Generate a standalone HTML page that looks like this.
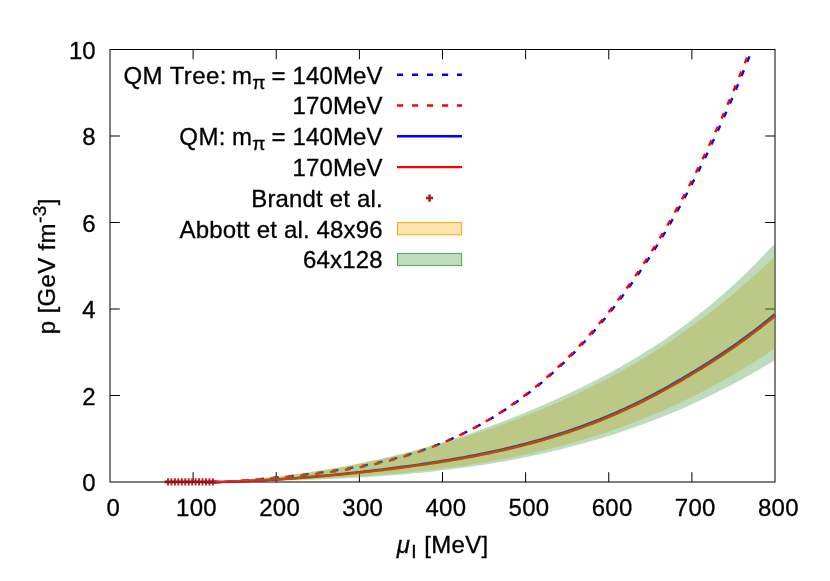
<!DOCTYPE html>
<html><head><meta charset="utf-8"><title>plot</title>
<style>
html,body{margin:0;padding:0;background:#fff;}
svg{display:block;will-change:transform;}
text{font-family:"Liberation Sans",sans-serif;font-size:24px;fill:#000;stroke:#000;stroke-width:0.3px;}
</style></head><body>
<svg width="830" height="581" viewBox="0 0 830 581">
<rect width="830" height="581" fill="#fff"/>
<path d="M193.12,482.00V472.20M193.12,49.50V59.30M276.25,482.00V472.20M276.25,49.50V59.30M359.38,482.00V472.20M359.38,49.50V59.30M442.50,482.00V472.20M442.50,49.50V59.30M525.62,482.00V472.20M525.62,49.50V59.30M608.75,482.00V472.20M608.75,49.50V59.30M691.88,482.00V472.20M691.88,49.50V59.30M110.00,395.50H119.80M775.00,395.50H765.20M110.00,309.00H119.80M775.00,309.00H765.20M110.00,222.50H119.80M775.00,222.50H765.20M110.00,136.00H119.80M775.00,136.00H765.20" stroke="#000" stroke-width="1" fill="none"/>
<rect x="110.0" y="49.5" width="665.0" height="432.5" fill="none" stroke="#000" stroke-width="1"/>
<g fill="none" stroke-width="2.4">
<path d="M206.25,482.05 L206.61,482.05 L206.98,482.05 L207.34,482.05 L207.70,482.05 L208.06,482.05 L208.43,482.05 L208.79,482.05 L209.15,482.05 L209.52,482.05 L209.88,482.05 L210.24,482.05 L210.60,482.05 L210.97,482.05 L211.33,482.05 L211.69,482.05 L212.06,482.05 L212.42,482.05 L212.78,482.05 L213.15,482.05 L213.51,482.05 L213.87,482.05 L214.23,482.05 L214.60,482.05 L214.96,482.05 L215.32,482.05 L215.69,482.05 L216.05,482.05 L216.41,482.05 L216.77,482.05 L217.14,482.05 L217.50,482.05 L217.86,482.05 L218.23,482.05 L218.59,482.05 L218.95,482.05 L219.31,482.05 L219.68,482.05 L220.04,482.05 L220.40,482.05 L220.77,482.05 L221.13,482.05 L221.49,482.05 L221.86,482.05 L222.22,482.05 L222.58,482.05 L222.94,482.05 L223.31,482.05 L223.67,482.05 L224.03,482.05 L224.40,482.05 L224.76,482.05 L225.12,482.05 L225.48,482.05 L225.85,482.05 L226.21,482.05 L226.57,482.05 L226.94,482.05 L227.30,482.05 L227.66,482.02 L228.02,481.99 L228.39,481.96 L228.75,481.93 L229.11,481.90 L229.48,481.86 L229.84,481.83 L230.20,481.80 L230.56,481.77 L230.93,481.74 L231.29,481.71 L231.65,481.67 L232.02,481.64 L232.38,481.61 L232.74,481.58 L233.11,481.55 L233.47,481.52 L233.83,481.49 L234.19,481.45 L234.56,481.42 L234.92,481.39 L235.28,481.36 L235.65,481.33 L236.01,481.30 L236.37,481.27 L236.73,481.24 L237.10,481.21 L237.46,481.18 L237.82,481.15 L238.19,481.11 L238.55,481.08 L238.91,481.05 L239.27,481.02 L239.64,480.99 L240.00,480.96 L240.36,480.93 L240.73,480.90 L241.09,480.87 L241.45,480.84 L241.82,480.80 L242.18,480.77 L242.54,480.74 L242.90,480.70 L243.27,480.67 L243.63,480.63 L243.99,480.60 L244.36,480.57 L244.72,480.53 L245.08,480.50 L245.44,480.46 L245.81,480.43 L246.17,480.40 L246.53,480.36 L246.90,480.33 L247.26,480.30 L247.62,480.26 L247.98,480.23 L248.35,480.19 L248.71,480.16 L249.07,480.13 L249.44,480.09 L249.80,480.06 L250.16,480.03 L250.52,479.99 L250.89,479.96 L251.25,479.93 L251.61,479.89 L251.98,479.86 L252.34,479.82 L252.70,479.79 L253.07,479.76 L253.43,479.72 L253.79,479.69 L254.15,479.66 L254.52,479.62 L254.88,479.59 L255.24,479.56 L255.61,479.52 L255.97,479.49 L256.33,479.46 L256.69,479.42 L257.06,479.39 L257.42,479.35 L257.78,479.32 L258.15,479.29 L258.51,479.25 L258.87,479.22 L259.23,479.19 L259.60,479.15 L259.96,479.12 L260.32,479.08 L260.69,479.05 L261.05,479.02 L261.41,478.98 L261.78,478.95 L262.14,478.91 L262.50,478.88 L262.86,478.85 L263.23,478.81 L263.59,478.78 L263.95,478.75 L264.32,478.71 L264.68,478.68 L265.04,478.64 L265.40,478.61 L265.77,478.57 L266.13,478.54 L266.49,478.51 L266.86,478.47 L267.22,478.44 L267.58,478.40 L267.94,478.37 L268.31,478.33 L268.67,478.30 L269.03,478.27 L269.40,478.23 L269.76,478.20 L270.12,478.16 L270.48,478.13 L270.85,478.09 L271.21,478.06 L271.57,478.02 L271.94,477.99 L272.30,477.95 L272.66,477.92 L273.03,477.88 L273.39,477.85 L273.75,477.81 L274.11,477.78 L274.48,477.74 L274.84,477.71 L275.20,477.67 L275.57,477.64 L275.93,477.60 L276.29,477.57 L276.65,477.53 L277.02,477.50 L277.38,477.46 L277.74,477.43 L278.11,477.39 L278.47,477.35 L278.83,477.32 L279.19,477.28 L279.56,477.25 L279.92,477.21 L280.28,477.17 L280.65,477.14 L281.01,477.10 L281.37,477.07 L281.73,477.03 L282.10,476.99 L282.46,476.96 L282.82,476.92 L283.19,476.88 L283.55,476.85 L283.91,476.81 L284.28,476.77 L284.64,476.74 L285.00,476.70 L285.36,476.66 L285.73,476.62 L286.09,476.59 L286.45,476.55 L286.82,476.51 L287.18,476.48 L287.54,476.44 L287.90,476.40 L288.27,476.36 L288.63,476.32 L288.99,476.29 L289.36,476.25 L289.72,476.21 L290.08,476.17 L290.44,476.13 L290.81,476.10 L291.17,476.06 L291.53,476.02 L291.90,475.98 L292.26,475.94 L292.62,475.90 L292.99,475.86 L293.35,475.83 L293.71,475.79 L294.07,475.75 L294.44,475.71 L294.80,475.67 L295.16,475.63 L295.53,475.59 L295.89,475.55 L296.25,475.51 L296.61,475.47 L296.98,475.43 L297.34,475.39 L297.70,475.35 L298.07,475.31 L298.43,475.27 L298.79,475.23 L299.15,475.19 L299.52,475.15 L299.88,475.11 L300.24,475.07 L300.61,475.03 L300.97,474.98 L301.33,474.94 L301.69,474.90 L302.06,474.86 L302.42,474.82 L302.78,474.78 L303.15,474.73 L303.51,474.69 L303.87,474.65 L304.24,474.61 L304.60,474.57 L304.96,474.52 L305.32,474.48 L305.69,474.44 L306.05,474.40 L306.41,474.35 L306.78,474.31 L307.14,474.27 L307.50,474.22 L307.86,474.18 L308.23,474.14 L308.59,474.09 L308.95,474.05 L309.32,474.00 L309.68,473.96 L310.04,473.92 L310.40,473.87 L310.77,473.83 L311.13,473.78 L311.49,473.74 L311.86,473.69 L312.22,473.65 L312.58,473.60 L312.95,473.56 L313.31,473.51 L313.67,473.47 L314.03,473.42 L314.40,473.37 L314.76,473.33 L315.12,473.28 L315.49,473.23 L315.85,473.19 L316.21,473.14 L316.57,473.09 L316.94,473.05 L317.30,473.00 L317.66,472.95 L318.03,472.91 L318.39,472.86 L318.75,472.81 L319.11,472.76 L319.48,472.71 L319.84,472.67 L320.20,472.62 L320.57,472.57 L320.93,472.52 L321.29,472.47 L321.65,472.42 L322.02,472.37 L322.38,472.32 L322.74,472.27 L323.11,472.22 L323.47,472.17 L323.83,472.12 L324.20,472.07 L324.56,472.02 L324.92,471.97 L325.28,471.92 L325.65,471.87 L326.01,471.82 L326.37,471.77 L326.74,471.72 L327.10,471.67 L327.46,471.61 L327.82,471.56 L328.19,471.51 L328.55,471.46 L328.91,471.41 L329.28,471.35 L329.64,471.30 L330.00,471.25 L330.36,471.19 L330.73,471.14 L331.09,471.09 L331.45,471.03 L331.82,470.98 L332.18,470.93 L332.54,470.87 L332.91,470.82 L333.27,470.76 L333.63,470.71 L333.99,470.65 L334.36,470.60 L334.72,470.54 L335.08,470.48 L335.45,470.43 L335.81,470.37 L336.17,470.32 L336.53,470.26 L336.90,470.20 L337.26,470.15 L337.62,470.09 L337.99,470.03 L338.35,469.97 L338.71,469.92 L339.07,469.86 L339.44,469.80 L339.80,469.74 L340.16,469.68 L340.53,469.63 L340.89,469.57 L341.25,469.51 L341.61,469.45 L341.98,469.40 L342.34,469.34 L342.70,469.28 L343.07,469.23 L343.43,469.17 L343.79,469.11 L344.16,469.06 L344.52,469.00 L344.88,468.94 L345.24,468.88 L345.61,468.83 L345.97,468.77 L346.33,468.71 L346.70,468.65 L347.06,468.59 L347.42,468.53 L347.78,468.47 L348.15,468.41 L348.51,468.35 L348.87,468.29 L349.24,468.23 L349.60,468.17 L349.96,468.11 L350.32,468.05 L350.69,467.99 L351.05,467.93 L351.41,467.87 L351.78,467.80 L352.14,467.74 L352.50,467.68 L352.87,467.62 L353.23,467.55 L353.59,467.49 L353.95,467.43 L354.32,467.36 L354.68,467.30 L355.04,467.23 L355.41,467.17 L355.77,467.11 L356.13,467.04 L356.49,466.98 L356.86,466.91 L357.22,466.85 L357.58,466.78 L357.95,466.71 L358.31,466.65 L358.67,466.58 L359.03,466.51 L359.40,466.45 L359.76,466.38 L360.12,466.31 L360.49,466.24 L360.85,466.18 L361.21,466.11 L361.57,466.04 L361.94,465.97 L362.30,465.90 L362.66,465.83 L363.03,465.76 L363.39,465.69 L363.75,465.62 L364.12,465.55 L364.48,465.48 L364.84,465.41 L365.20,465.34 L365.57,465.27 L365.93,465.20 L366.29,465.12 L366.66,465.05 L367.02,464.98 L367.38,464.91 L367.74,464.83 L368.11,464.76 L368.47,464.69 L368.83,464.61 L369.20,464.54 L369.56,464.46 L369.92,464.39 L370.28,464.31 L370.65,464.24 L371.01,464.16 L371.37,464.09 L371.74,464.01 L372.10,463.93 L372.46,463.86 L372.83,463.78 L373.19,463.70 L373.55,463.62 L373.91,463.55 L374.28,463.47 L374.64,463.39 L375.00,463.31 L375.37,463.23 L375.73,463.15 L376.09,463.07 L376.45,462.99 L376.82,462.91 L377.18,462.83 L377.54,462.75 L377.91,462.67 L378.27,462.59 L378.63,462.51 L378.99,462.43 L379.36,462.34 L379.72,462.26 L380.08,462.18 L380.45,462.10 L380.81,462.01 L381.17,461.93 L381.53,461.84 L381.90,461.76 L382.26,461.67 L382.62,461.59 L382.99,461.50 L383.35,461.42 L383.71,461.33 L384.08,461.25 L384.44,461.16 L384.80,461.07 L385.16,460.99 L385.53,460.90 L385.89,460.81 L386.25,460.72 L386.62,460.63 L386.98,460.55 L387.34,460.46 L387.70,460.37 L388.07,460.28 L388.43,460.19 L388.79,460.10 L389.16,460.01 L389.52,459.91 L389.88,459.82 L390.24,459.73 L390.61,459.64 L390.97,459.55 L391.33,459.45 L391.70,459.36 L392.06,459.27 L392.42,459.17 L392.79,459.08 L393.15,458.99 L393.51,458.89 L393.87,458.80 L394.24,458.70 L394.60,458.61 L394.96,458.51 L395.33,458.41 L395.69,458.32 L396.05,458.22 L396.41,458.12 L396.78,458.02 L397.14,457.93 L397.50,457.83 L397.87,457.73 L398.23,457.63 L398.59,457.53 L398.95,457.43 L399.32,457.33 L399.68,457.23 L400.04,457.13 L400.41,457.03 L400.77,456.93 L401.13,456.83 L401.49,456.72 L401.86,456.62 L402.22,456.52 L402.58,456.41 L402.95,456.31 L403.31,456.21 L403.67,456.10 L404.04,456.00 L404.40,455.89 L404.76,455.79 L405.12,455.68 L405.49,455.58 L405.85,455.47 L406.21,455.36 L406.58,455.25 L406.94,455.15 L407.30,455.04 L407.66,454.93 L408.03,454.82 L408.39,454.71 L408.75,454.60 L409.12,454.49 L409.48,454.38 L409.84,454.27 L410.20,454.16 L410.57,454.05 L410.93,453.94 L411.29,453.83 L411.66,453.71 L412.02,453.60 L412.38,453.49 L412.74,453.38 L413.11,453.26 L413.47,453.15 L413.83,453.03 L414.20,452.92 L414.56,452.80 L414.92,452.69 L415.29,452.57 L415.65,452.45 L416.01,452.34 L416.37,452.22 L416.74,452.10 L417.10,451.98 L417.46,451.86 L417.83,451.75 L418.19,451.63 L418.55,451.51 L418.91,451.39 L419.28,451.27 L419.64,451.14 L420.00,451.02 L420.37,450.90 L420.73,450.78 L421.09,450.66 L421.45,450.53 L421.82,450.41 L422.18,450.29 L422.54,450.16 L422.91,450.04 L423.27,449.91 L423.63,449.79 L424.00,449.66 L424.36,449.54 L424.72,449.41 L425.08,449.28 L425.45,449.15 L425.81,449.03 L426.17,448.90 L426.54,448.77 L426.90,448.64 L427.26,448.51 L427.62,448.38 L427.99,448.25 L428.35,448.12 L428.71,447.99 L429.08,447.86 L429.44,447.73 L429.80,447.59 L430.16,447.46 L430.53,447.33 L430.89,447.19 L431.25,447.06 L431.62,446.93 L431.98,446.79 L432.34,446.66 L432.70,446.52 L433.07,446.38 L433.43,446.25 L433.79,446.11 L434.16,445.97 L434.52,445.83 L434.88,445.70 L435.25,445.56 L435.61,445.42 L435.97,445.28 L436.33,445.14 L436.70,445.00 L437.06,444.86 L437.42,444.72 L437.79,444.57 L438.15,444.43 L438.51,444.29 L438.87,444.15 L439.24,444.00 L439.60,443.86 L439.96,443.71 L440.33,443.57 L440.69,443.42 L441.05,443.28 L441.41,443.13 L441.78,442.98 L442.14,442.84 L442.50,442.69 L442.87,442.54 L443.23,442.39 L443.59,442.24 L443.96,442.10 L444.32,441.95 L444.68,441.80 L445.04,441.64 L445.41,441.49 L445.77,441.34 L446.13,441.19 L446.50,441.04 L446.86,440.88 L447.22,440.73 L447.58,440.58 L447.95,440.42 L448.31,440.27 L448.67,440.11 L449.04,439.96 L449.40,439.80 L449.76,439.64 L450.12,439.49 L450.49,439.33 L450.85,439.17 L451.21,439.01 L451.58,438.85 L451.94,438.69 L452.30,438.53 L452.66,438.37 L453.03,438.21 L453.39,438.05 L453.75,437.89 L454.12,437.72 L454.48,437.56 L454.84,437.40 L455.21,437.23 L455.57,437.07 L455.93,436.90 L456.29,436.74 L456.66,436.57 L457.02,436.41 L457.38,436.24 L457.75,436.07 L458.11,435.91 L458.47,435.74 L458.83,435.57 L459.20,435.40 L459.56,435.23 L459.92,435.06 L460.29,434.89 L460.65,434.72 L461.01,434.55 L461.37,434.37 L461.74,434.20 L462.10,434.03 L462.46,433.85 L462.83,433.68 L463.19,433.51 L463.55,433.33 L463.92,433.15 L464.28,432.98 L464.64,432.80 L465.00,432.62 L465.37,432.45 L465.73,432.27 L466.09,432.09 L466.46,431.91 L466.82,431.73 L467.18,431.55 L467.54,431.37 L467.91,431.19 L468.27,431.01 L468.63,430.82 L469.00,430.64 L469.36,430.46 L469.72,430.27 L470.08,430.09 L470.45,429.91 L470.81,429.72 L471.17,429.53 L471.54,429.35 L471.90,429.16 L472.26,428.97 L472.62,428.79 L472.99,428.60 L473.35,428.41 L473.71,428.22 L474.08,428.03 L474.44,427.84 L474.80,427.65 L475.17,427.46 L475.53,427.26 L475.89,427.07 L476.25,426.88 L476.62,426.68 L476.98,426.49 L477.34,426.29 L477.71,426.10 L478.07,425.90 L478.43,425.71 L478.79,425.51 L479.16,425.31 L479.52,425.11 L479.88,424.92 L480.25,424.72 L480.61,424.52 L480.97,424.32 L481.33,424.12 L481.70,423.91 L482.06,423.71 L482.42,423.51 L482.79,423.31 L483.15,423.10 L483.51,422.90 L483.88,422.70 L484.24,422.49 L484.60,422.28 L484.96,422.08 L485.33,421.87 L485.69,421.66 L486.05,421.46 L486.42,421.25 L486.78,421.04 L487.14,420.83 L487.50,420.62 L487.87,420.41 L488.23,420.20 L488.59,419.99 L488.96,419.77 L489.32,419.56 L489.68,419.35 L490.04,419.13 L490.41,418.92 L490.77,418.70 L491.13,418.49 L491.50,418.27 L491.86,418.05 L492.22,417.84 L492.58,417.62 L492.95,417.40 L493.31,417.18 L493.67,416.96 L494.04,416.74 L494.40,416.52 L494.76,416.30 L495.13,416.08 L495.49,415.86 L495.85,415.63 L496.21,415.41 L496.58,415.18 L496.94,414.96 L497.30,414.73 L497.67,414.51 L498.03,414.28 L498.39,414.05 L498.75,413.83 L499.12,413.60 L499.48,413.37 L499.84,413.14 L500.21,412.91 L500.57,412.68 L500.93,412.45 L501.29,412.22 L501.66,411.98 L502.02,411.75 L502.38,411.52 L502.75,411.28 L503.11,411.05 L503.47,410.81 L503.84,410.58 L504.20,410.34 L504.56,410.10 L504.92,409.86 L505.29,409.63 L505.65,409.39 L506.01,409.15 L506.38,408.91 L506.74,408.67 L507.10,408.42 L507.46,408.18 L507.83,407.94 L508.19,407.70 L508.55,407.45 L508.92,407.21 L509.28,406.96 L509.64,406.72 L510.00,406.47 L510.37,406.22 L510.73,405.98 L511.09,405.73 L511.46,405.48 L511.82,405.23 L512.18,404.98 L512.54,404.73 L512.91,404.48 L513.27,404.23 L513.63,403.97 L514.00,403.72 L514.36,403.47 L514.72,403.21 L515.09,402.96 L515.45,402.70 L515.81,402.45 L516.17,402.19 L516.54,401.93 L516.90,401.67 L517.26,401.42 L517.63,401.16 L517.99,400.90 L518.35,400.64 L518.71,400.37 L519.08,400.11 L519.44,399.85 L519.80,399.59 L520.17,399.32 L520.53,399.06 L520.89,398.79 L521.25,398.53 L521.62,398.26 L521.98,397.99 L522.34,397.73 L522.71,397.46 L523.07,397.19 L523.43,396.92 L523.80,396.65 L524.16,396.38 L524.52,396.11 L524.88,395.84 L525.25,395.56 L525.61,395.29 L525.97,395.02 L526.34,394.74 L526.70,394.47 L527.06,394.19 L527.42,393.91 L527.79,393.64 L528.15,393.36 L528.51,393.08 L528.88,392.80 L529.24,392.52 L529.60,392.24 L529.96,391.96 L530.33,391.68 L530.69,391.39 L531.05,391.11 L531.42,390.83 L531.78,390.54 L532.14,390.26 L532.50,389.97 L532.87,389.69 L533.23,389.40 L533.59,389.11 L533.96,388.82 L534.32,388.53 L534.68,388.24 L535.05,387.95 L535.41,387.66 L535.77,387.37 L536.13,387.08 L536.50,386.78 L536.86,386.49 L537.22,386.20 L537.59,385.90 L537.95,385.60 L538.31,385.31 L538.67,385.01 L539.04,384.71 L539.40,384.41 L539.76,384.11 L540.13,383.81 L540.49,383.51 L540.85,383.21 L541.21,382.91 L541.58,382.61 L541.94,382.30 L542.30,382.00 L542.67,381.70 L543.03,381.39 L543.39,381.08 L543.76,380.78 L544.12,380.47 L544.48,380.16 L544.84,379.85 L545.21,379.54 L545.57,379.23 L545.93,378.92 L546.30,378.61 L546.66,378.30 L547.02,377.98 L547.38,377.67 L547.75,377.36 L548.11,377.04 L548.47,376.73 L548.84,376.41 L549.20,376.09 L549.56,375.77 L549.92,375.45 L550.29,375.14 L550.65,374.82 L551.01,374.49 L551.38,374.17 L551.74,373.85 L552.10,373.53 L552.46,373.20 L552.83,372.88 L553.19,372.55 L553.55,372.23 L553.92,371.90 L554.28,371.57 L554.64,371.25 L555.01,370.92 L555.37,370.59 L555.73,370.26 L556.09,369.93 L556.46,369.60 L556.82,369.26 L557.18,368.93 L557.55,368.60 L557.91,368.26 L558.27,367.93 L558.63,367.59 L559.00,367.26 L559.36,366.92 L559.72,366.58 L560.09,366.24 L560.45,365.90 L560.81,365.56 L561.17,365.22 L561.54,364.88 L561.90,364.54 L562.26,364.19 L562.63,363.85 L562.99,363.50 L563.35,363.16 L563.71,362.81 L564.08,362.47 L564.44,362.12 L564.80,361.77 L565.17,361.42 L565.53,361.07 L565.89,360.72 L566.26,360.37 L566.62,360.02 L566.98,359.66 L567.34,359.31 L567.71,358.96 L568.07,358.60 L568.43,358.24 L568.80,357.89 L569.16,357.53 L569.52,357.17 L569.88,356.81 L570.25,356.45 L570.61,356.09 L570.97,355.73 L571.34,355.37 L571.70,355.01 L572.06,354.65 L572.42,354.28 L572.79,353.92 L573.15,353.55 L573.51,353.18 L573.88,352.82 L574.24,352.45 L574.60,352.08 L574.97,351.71 L575.33,351.34 L575.69,350.97 L576.05,350.60 L576.42,350.23 L576.78,349.85 L577.14,349.48 L577.51,349.10 L577.87,348.73 L578.23,348.35 L578.59,347.97 L578.96,347.60 L579.32,347.22 L579.68,346.84 L580.05,346.46 L580.41,346.08 L580.77,345.69 L581.13,345.31 L581.50,344.93 L581.86,344.54 L582.22,344.16 L582.59,343.77 L582.95,343.39 L583.31,343.00 L583.67,342.61 L584.04,342.22 L584.40,341.83 L584.76,341.44 L585.13,341.05 L585.49,340.66 L585.85,340.26 L586.22,339.87 L586.58,339.47 L586.94,339.08 L587.30,338.68 L587.67,338.28 L588.03,337.89 L588.39,337.49 L588.76,337.09 L589.12,336.69 L589.48,336.28 L589.84,335.88 L590.21,335.48 L590.57,335.08 L590.93,334.67 L591.30,334.27 L591.66,333.86 L592.02,333.45 L592.38,333.04 L592.75,332.63 L593.11,332.22 L593.47,331.81 L593.84,331.40 L594.20,330.99 L594.56,330.58 L594.93,330.16 L595.29,329.75 L595.65,329.33 L596.01,328.92 L596.38,328.50 L596.74,328.08 L597.10,327.66 L597.47,327.24 L597.83,326.82 L598.19,326.40 L598.55,325.97 L598.92,325.55 L599.28,325.13 L599.64,324.70 L600.01,324.28 L600.37,323.85 L600.73,323.42 L601.09,322.99 L601.46,322.56 L601.82,322.13 L602.18,321.70 L602.55,321.27 L602.91,320.83 L603.27,320.40 L603.63,319.97 L604.00,319.53 L604.36,319.09 L604.72,318.66 L605.09,318.22 L605.45,317.78 L605.81,317.34 L606.18,316.90 L606.54,316.45 L606.90,316.01 L607.26,315.57 L607.63,315.12 L607.99,314.68 L608.35,314.23 L608.72,313.78 L609.08,313.33 L609.44,312.88 L609.80,312.43 L610.17,311.98 L610.53,311.53 L610.89,311.08 L611.26,310.62 L611.62,310.17 L611.98,309.71 L612.34,309.25 L612.71,308.80 L613.07,308.34 L613.43,307.88 L613.80,307.42 L614.16,306.96 L614.52,306.49 L614.89,306.03 L615.25,305.57 L615.61,305.10 L615.97,304.64 L616.34,304.17 L616.70,303.70 L617.06,303.23 L617.43,302.76 L617.79,302.29 L618.15,301.82 L618.51,301.35 L618.88,300.87 L619.24,300.40 L619.60,299.92 L619.97,299.44 L620.33,298.97 L620.69,298.49 L621.05,298.01 L621.42,297.53 L621.78,297.05 L622.14,296.56 L622.51,296.08 L622.87,295.60 L623.23,295.11 L623.59,294.63 L623.96,294.14 L624.32,293.65 L624.68,293.16 L625.05,292.67 L625.41,292.18 L625.77,291.69 L626.14,291.19 L626.50,290.70 L626.86,290.20 L627.22,289.71 L627.59,289.21 L627.95,288.71 L628.31,288.21 L628.68,287.71 L629.04,287.21 L629.40,286.71 L629.76,286.21 L630.13,285.70 L630.49,285.20 L630.85,284.69 L631.22,284.19 L631.58,283.68 L631.94,283.17 L632.30,282.66 L632.67,282.15 L633.03,281.63 L633.39,281.12 L633.76,280.61 L634.12,280.09 L634.48,279.58 L634.85,279.06 L635.21,278.54 L635.57,278.02 L635.93,277.50 L636.30,276.98 L636.66,276.46 L637.02,275.93 L637.39,275.41 L637.75,274.88 L638.11,274.36 L638.47,273.83 L638.84,273.30 L639.20,272.77 L639.56,272.24 L639.93,271.71 L640.29,271.18 L640.65,270.64 L641.01,270.11 L641.38,269.57 L641.74,269.03 L642.10,268.50 L642.47,267.96 L642.83,267.42 L643.19,266.88 L643.55,266.33 L643.92,265.79 L644.28,265.25 L644.64,264.70 L645.01,264.15 L645.37,263.61 L645.73,263.06 L646.10,262.51 L646.46,261.96 L646.82,261.40 L647.18,260.85 L647.55,260.30 L647.91,259.74 L648.27,259.19 L648.64,258.63 L649.00,258.07 L649.36,257.51 L649.72,256.95 L650.09,256.39 L650.45,255.83 L650.81,255.26 L651.18,254.70 L651.54,254.13 L651.90,253.57 L652.26,253.00 L652.63,252.43 L652.99,251.86 L653.35,251.29 L653.72,250.71 L654.08,250.14 L654.44,249.56 L654.81,248.99 L655.17,248.41 L655.53,247.83 L655.89,247.25 L656.26,246.67 L656.62,246.09 L656.98,245.51 L657.35,244.93 L657.71,244.34 L658.07,243.76 L658.43,243.17 L658.80,242.58 L659.16,241.99 L659.52,241.40 L659.89,240.81 L660.25,240.22 L660.61,239.62 L660.97,239.03 L661.34,238.43 L661.70,237.84 L662.06,237.24 L662.43,236.64 L662.79,236.04 L663.15,235.43 L663.51,234.83 L663.88,234.23 L664.24,233.62 L664.60,233.02 L664.97,232.41 L665.33,231.80 L665.69,231.19 L666.06,230.58 L666.42,229.97 L666.78,229.35 L667.14,228.74 L667.51,228.12 L667.87,227.51 L668.23,226.89 L668.60,226.27 L668.96,225.65 L669.32,225.03 L669.68,224.41 L670.05,223.78 L670.41,223.16 L670.77,222.53 L671.14,221.90 L671.50,221.28 L671.86,220.65 L672.22,220.01 L672.59,219.38 L672.95,218.75 L673.31,218.12 L673.68,217.48 L674.04,216.84 L674.40,216.20 L674.77,215.57 L675.13,214.93 L675.49,214.28 L675.85,213.64 L676.22,213.00 L676.58,212.35 L676.94,211.71 L677.31,211.06 L677.67,210.41 L678.03,209.76 L678.39,209.11 L678.76,208.46 L679.12,207.80 L679.48,207.15 L679.85,206.49 L680.21,205.83 L680.57,205.18 L680.93,204.52 L681.30,203.86 L681.66,203.19 L682.02,202.53 L682.39,201.87 L682.75,201.20 L683.11,200.53 L683.47,199.86 L683.84,199.20 L684.20,198.52 L684.56,197.85 L684.93,197.18 L685.29,196.51 L685.65,195.83 L686.02,195.15 L686.38,194.47 L686.74,193.80 L687.10,193.11 L687.47,192.43 L687.83,191.75 L688.19,191.07 L688.56,190.38 L688.92,189.69 L689.28,189.00 L689.64,188.32 L690.01,187.62 L690.37,186.93 L690.73,186.24 L691.10,185.55 L691.46,184.85 L691.82,184.15 L692.18,183.45 L692.55,182.76 L692.91,182.05 L693.27,181.35 L693.64,180.65 L694.00,179.94 L694.36,179.24 L694.72,178.53 L695.09,177.82 L695.45,177.11 L695.81,176.40 L696.18,175.69 L696.54,174.98 L696.90,174.26 L697.27,173.55 L697.63,172.83 L697.99,172.11 L698.35,171.39 L698.72,170.67 L699.08,169.95 L699.44,169.22 L699.81,168.50 L700.17,167.77 L700.53,167.04 L700.89,166.31 L701.26,165.58 L701.62,164.85 L701.98,164.12 L702.35,163.39 L702.71,162.65 L703.07,161.91 L703.43,161.17 L703.80,160.44 L704.16,159.69 L704.52,158.95 L704.89,158.21 L705.25,157.46 L705.61,156.72 L705.98,155.97 L706.34,155.22 L706.70,154.47 L707.06,153.72 L707.43,152.97 L707.79,152.21 L708.15,151.46 L708.52,150.70 L708.88,149.94 L709.24,149.18 L709.60,148.42 L709.97,147.66 L710.33,146.90 L710.69,146.13 L711.06,145.37 L711.42,144.60 L711.78,143.83 L712.14,143.06 L712.51,142.29 L712.87,141.52 L713.23,140.74 L713.60,139.97 L713.96,139.19 L714.32,138.41 L714.68,137.63 L715.05,136.85 L715.41,136.07 L715.77,135.28 L716.14,134.50 L716.50,133.71 L716.86,132.92 L717.23,132.13 L717.59,131.34 L717.95,130.55 L718.31,129.76 L718.68,128.96 L719.04,128.17 L719.40,127.37 L719.77,126.57 L720.13,125.77 L720.49,124.97 L720.85,124.17 L721.22,123.36 L721.58,122.56 L721.94,121.75 L722.31,120.94 L722.67,120.13 L723.03,119.32 L723.39,118.51 L723.76,117.69 L724.12,116.88 L724.48,116.06 L724.85,115.24 L725.21,114.42 L725.57,113.60 L725.94,112.78 L726.30,111.95 L726.66,111.13 L727.02,110.30 L727.39,109.47 L727.75,108.64 L728.11,107.81 L728.48,106.98 L728.84,106.14 L729.20,105.31 L729.56,104.47 L729.93,103.63 L730.29,102.79 L730.65,101.95 L731.02,101.11 L731.38,100.27 L731.74,99.42 L732.10,98.57 L732.47,97.73 L732.83,96.88 L733.19,96.02 L733.56,95.17 L733.92,94.32 L734.28,93.46 L734.64,92.61 L735.01,91.75 L735.37,90.89 L735.73,90.03 L736.10,89.16 L736.46,88.30 L736.82,87.43 L737.19,86.57 L737.55,85.70 L737.91,84.83 L738.27,83.96 L738.64,83.08 L739.00,82.21 L739.36,81.33 L739.73,80.46 L740.09,79.58 L740.45,78.70 L740.81,77.81 L741.18,76.93 L741.54,76.05 L741.90,75.16 L742.27,74.27 L742.63,73.38 L742.99,72.49 L743.35,71.60 L743.72,70.71 L744.08,69.81 L744.44,68.92 L744.81,68.02 L745.17,67.12 L745.53,66.22 L745.90,65.31 L746.26,64.41 L746.62,63.50 L746.98,62.60 L747.35,61.69 L747.71,60.78 L748.07,59.87 L748.44,58.95 L748.80,58.04 L749.16,57.12 L749.52,56.21 L749.89,55.29 L750.25,54.37" stroke="#0000ff" stroke-dasharray="6.1,8.9" stroke-dashoffset="8.25"/>
<path d="M203.75,482.05 L204.11,482.05 L204.48,482.05 L204.84,482.05 L205.20,482.05 L205.56,482.05 L205.93,482.05 L206.29,482.05 L206.65,482.05 L207.02,482.05 L207.38,482.05 L207.74,482.05 L208.10,482.05 L208.47,482.05 L208.83,482.05 L209.19,482.05 L209.56,482.05 L209.92,482.05 L210.28,482.05 L210.65,482.05 L211.01,482.05 L211.37,482.05 L211.73,482.05 L212.10,482.05 L212.46,482.05 L212.82,482.05 L213.19,482.05 L213.55,482.05 L213.91,482.05 L214.27,482.05 L214.64,482.05 L215.00,482.05 L215.36,482.05 L215.73,482.05 L216.09,482.05 L216.45,482.05 L216.81,482.05 L217.18,482.05 L217.54,482.05 L217.90,482.05 L218.27,482.05 L218.63,482.05 L218.99,482.05 L219.36,482.05 L219.72,482.05 L220.08,482.05 L220.44,482.05 L220.81,482.05 L221.17,482.05 L221.53,482.05 L221.90,482.05 L222.26,482.05 L222.62,482.05 L222.98,482.05 L223.35,482.05 L223.71,482.05 L224.07,482.05 L224.44,482.05 L224.80,482.05 L225.16,482.02 L225.52,481.99 L225.89,481.96 L226.25,481.93 L226.61,481.90 L226.98,481.86 L227.34,481.83 L227.70,481.80 L228.06,481.77 L228.43,481.74 L228.79,481.71 L229.15,481.67 L229.52,481.64 L229.88,481.61 L230.24,481.58 L230.61,481.55 L230.97,481.52 L231.33,481.49 L231.69,481.45 L232.06,481.42 L232.42,481.39 L232.78,481.36 L233.15,481.33 L233.51,481.30 L233.87,481.27 L234.23,481.24 L234.60,481.21 L234.96,481.18 L235.32,481.15 L235.69,481.11 L236.05,481.08 L236.41,481.05 L236.77,481.02 L237.14,480.99 L237.50,480.96 L237.86,480.93 L238.23,480.90 L238.59,480.87 L238.95,480.84 L239.32,480.81 L239.68,480.78 L240.04,480.75 L240.40,480.72 L240.77,480.69 L241.13,480.66 L241.49,480.64 L241.86,480.61 L242.22,480.58 L242.58,480.55 L242.94,480.52 L243.31,480.49 L243.67,480.46 L244.03,480.43 L244.40,480.40 L244.76,480.37 L245.12,480.35 L245.48,480.32 L245.85,480.29 L246.21,480.26 L246.57,480.23 L246.94,480.20 L247.30,480.17 L247.66,480.14 L248.02,480.11 L248.39,480.08 L248.75,480.06 L249.11,480.03 L249.48,480.00 L249.84,479.97 L250.20,479.94 L250.57,479.91 L250.93,479.88 L251.29,479.85 L251.65,479.82 L252.02,479.80 L252.38,479.77 L252.74,479.74 L253.11,479.71 L253.47,479.68 L253.83,479.65 L254.19,479.62 L254.56,479.59 L254.92,479.56 L255.28,479.54 L255.65,479.51 L256.01,479.48 L256.37,479.45 L256.73,479.42 L257.10,479.39 L257.46,479.36 L257.82,479.33 L258.19,479.30 L258.55,479.27 L258.91,479.24 L259.28,479.22 L259.64,479.19 L260.00,479.16 L260.36,479.13 L260.73,479.10 L261.09,479.07 L261.45,479.04 L261.82,479.01 L262.18,478.98 L262.54,478.95 L262.90,478.92 L263.27,478.89 L263.63,478.86 L263.99,478.83 L264.36,478.80 L264.72,478.78 L265.08,478.75 L265.44,478.72 L265.81,478.69 L266.17,478.66 L266.53,478.63 L266.90,478.60 L267.26,478.57 L267.62,478.54 L267.98,478.51 L268.35,478.48 L268.71,478.45 L269.07,478.42 L269.44,478.39 L269.80,478.36 L270.16,478.33 L270.53,478.30 L270.89,478.27 L271.25,478.24 L271.61,478.21 L271.98,478.18 L272.34,478.15 L272.70,478.11 L273.07,478.08 L273.43,478.05 L273.79,478.02 L274.15,477.99 L274.52,477.96 L274.88,477.93 L275.24,477.90 L275.61,477.87 L275.97,477.84 L276.33,477.81 L276.69,477.78 L277.06,477.74 L277.42,477.71 L277.78,477.68 L278.15,477.65 L278.51,477.62 L278.87,477.59 L279.23,477.56 L279.60,477.52 L279.96,477.49 L280.32,477.46 L280.69,477.43 L281.05,477.40 L281.41,477.36 L281.78,477.33 L282.14,477.30 L282.50,477.27 L282.86,477.24 L283.23,477.20 L283.59,477.17 L283.95,477.14 L284.32,477.11 L284.68,477.07 L285.04,477.04 L285.40,477.01 L285.77,476.97 L286.13,476.94 L286.49,476.91 L286.86,476.87 L287.22,476.84 L287.58,476.81 L287.94,476.77 L288.31,476.74 L288.67,476.71 L289.03,476.67 L289.40,476.64 L289.76,476.61 L290.12,476.57 L290.49,476.54 L290.85,476.50 L291.21,476.47 L291.57,476.43 L291.94,476.40 L292.30,476.37 L292.66,476.33 L293.03,476.30 L293.39,476.26 L293.75,476.23 L294.11,476.19 L294.48,476.16 L294.84,476.12 L295.20,476.08 L295.57,476.05 L295.93,476.01 L296.29,475.98 L296.65,475.94 L297.02,475.91 L297.38,475.87 L297.74,475.83 L298.11,475.80 L298.47,475.76 L298.83,475.72 L299.19,475.69 L299.56,475.65 L299.92,475.61 L300.28,475.58 L300.65,475.54 L301.01,475.50 L301.37,475.46 L301.74,475.43 L302.10,475.39 L302.46,475.35 L302.82,475.31 L303.19,475.28 L303.55,475.24 L303.91,475.20 L304.28,475.16 L304.64,475.12 L305.00,475.08 L305.36,475.05 L305.73,475.01 L306.09,474.97 L306.45,474.93 L306.82,474.89 L307.18,474.85 L307.54,474.81 L307.90,474.77 L308.27,474.73 L308.63,474.69 L308.99,474.65 L309.36,474.61 L309.72,474.57 L310.08,474.53 L310.45,474.49 L310.81,474.45 L311.17,474.41 L311.53,474.37 L311.90,474.32 L312.26,474.28 L312.62,474.24 L312.99,474.20 L313.35,474.16 L313.71,474.12 L314.07,474.07 L314.44,474.03 L314.80,473.99 L315.16,473.95 L315.53,473.90 L315.89,473.86 L316.25,473.82 L316.61,473.77 L316.98,473.73 L317.34,473.69 L317.70,473.64 L318.07,473.60 L318.43,473.56 L318.79,473.51 L319.15,473.47 L319.52,473.42 L319.88,473.38 L320.24,473.33 L320.61,473.29 L320.97,473.24 L321.33,473.20 L321.70,473.15 L322.06,473.11 L322.42,473.06 L322.78,473.02 L323.15,472.97 L323.51,472.92 L323.87,472.88 L324.24,472.83 L324.60,472.78 L324.96,472.74 L325.32,472.69 L325.69,472.64 L326.05,472.59 L326.41,472.55 L326.78,472.50 L327.14,472.45 L327.50,472.40 L327.86,472.35 L328.23,472.30 L328.59,472.25 L328.95,472.21 L329.32,472.16 L329.68,472.11 L330.04,472.06 L330.41,472.01 L330.77,471.96 L331.13,471.91 L331.49,471.86 L331.86,471.81 L332.22,471.76 L332.58,471.70 L332.95,471.65 L333.31,471.60 L333.67,471.55 L334.03,471.50 L334.40,471.45 L334.76,471.39 L335.12,471.34 L335.49,471.29 L335.85,471.24 L336.21,471.18 L336.57,471.13 L336.94,471.08 L337.30,471.02 L337.66,470.97 L338.03,470.92 L338.39,470.86 L338.75,470.81 L339.11,470.75 L339.48,470.70 L339.84,470.64 L340.20,470.58 L340.57,470.53 L340.93,470.47 L341.29,470.41 L341.66,470.36 L342.02,470.30 L342.38,470.24 L342.74,470.18 L343.11,470.13 L343.47,470.07 L343.83,470.01 L344.20,469.95 L344.56,469.89 L344.92,469.83 L345.28,469.77 L345.65,469.71 L346.01,469.65 L346.37,469.59 L346.74,469.53 L347.10,469.47 L347.46,469.41 L347.82,469.35 L348.19,469.29 L348.55,469.23 L348.91,469.17 L349.28,469.10 L349.64,469.04 L350.00,468.98 L350.37,468.92 L350.73,468.85 L351.09,468.79 L351.45,468.73 L351.82,468.66 L352.18,468.60 L352.54,468.53 L352.91,468.47 L353.27,468.41 L353.63,468.34 L353.99,468.28 L354.36,468.21 L354.72,468.15 L355.08,468.08 L355.45,468.01 L355.81,467.95 L356.17,467.88 L356.53,467.81 L356.90,467.75 L357.26,467.68 L357.62,467.61 L357.99,467.54 L358.35,467.48 L358.71,467.41 L359.07,467.34 L359.44,467.27 L359.80,467.20 L360.16,467.13 L360.53,467.06 L360.89,466.99 L361.25,466.92 L361.62,466.85 L361.98,466.78 L362.34,466.71 L362.70,466.64 L363.07,466.57 L363.43,466.50 L363.79,466.42 L364.16,466.35 L364.52,466.28 L364.88,466.21 L365.24,466.13 L365.61,466.06 L365.97,465.99 L366.33,465.91 L366.70,465.84 L367.06,465.76 L367.42,465.69 L367.78,465.61 L368.15,465.54 L368.51,465.46 L368.87,465.39 L369.24,465.31 L369.60,465.23 L369.96,465.16 L370.33,465.08 L370.69,465.00 L371.05,464.92 L371.41,464.85 L371.78,464.77 L372.14,464.69 L372.50,464.61 L372.87,464.53 L373.23,464.45 L373.59,464.37 L373.95,464.29 L374.32,464.21 L374.68,464.13 L375.04,464.05 L375.41,463.97 L375.77,463.89 L376.13,463.81 L376.49,463.73 L376.86,463.64 L377.22,463.56 L377.58,463.48 L377.95,463.40 L378.31,463.31 L378.67,463.23 L379.03,463.14 L379.40,463.06 L379.76,462.97 L380.12,462.89 L380.49,462.80 L380.85,462.72 L381.21,462.63 L381.58,462.55 L381.94,462.46 L382.30,462.37 L382.66,462.29 L383.03,462.20 L383.39,462.11 L383.75,462.02 L384.12,461.93 L384.48,461.85 L384.84,461.76 L385.20,461.67 L385.57,461.58 L385.93,461.49 L386.29,461.40 L386.66,461.31 L387.02,461.21 L387.38,461.12 L387.74,461.03 L388.11,460.94 L388.47,460.85 L388.83,460.75 L389.20,460.66 L389.56,460.57 L389.92,460.47 L390.29,460.38 L390.65,460.29 L391.01,460.19 L391.37,460.10 L391.74,460.00 L392.10,459.91 L392.46,459.81 L392.83,459.71 L393.19,459.62 L393.55,459.52 L393.91,459.42 L394.28,459.32 L394.64,459.23 L395.00,459.13 L395.37,459.03 L395.73,458.93 L396.09,458.83 L396.45,458.73 L396.82,458.63 L397.18,458.53 L397.54,458.43 L397.91,458.33 L398.27,458.23 L398.63,458.13 L398.99,458.02 L399.36,457.92 L399.72,457.82 L400.08,457.71 L400.45,457.61 L400.81,457.51 L401.17,457.40 L401.54,457.30 L401.90,457.19 L402.26,457.09 L402.62,456.98 L402.99,456.88 L403.35,456.77 L403.71,456.66 L404.08,456.55 L404.44,456.45 L404.80,456.34 L405.16,456.23 L405.53,456.12 L405.89,456.01 L406.25,455.90 L406.62,455.79 L406.98,455.68 L407.34,455.57 L407.70,455.46 L408.07,455.35 L408.43,455.24 L408.79,455.13 L409.16,455.01 L409.52,454.90 L409.88,454.79 L410.24,454.68 L410.61,454.56 L410.97,454.45 L411.33,454.33 L411.70,454.22 L412.06,454.10 L412.42,453.99 L412.79,453.87 L413.15,453.75 L413.51,453.64 L413.87,453.52 L414.24,453.40 L414.60,453.28 L414.96,453.16 L415.33,453.05 L415.69,452.93 L416.05,452.81 L416.41,452.69 L416.78,452.57 L417.14,452.44 L417.50,452.32 L417.87,452.20 L418.23,452.08 L418.59,451.96 L418.95,451.83 L419.32,451.71 L419.68,451.59 L420.04,451.46 L420.41,451.34 L420.77,451.21 L421.13,451.09 L421.50,450.96 L421.86,450.84 L422.22,450.71 L422.58,450.58 L422.95,450.45 L423.31,450.33 L423.67,450.20 L424.04,450.07 L424.40,449.94 L424.76,449.81 L425.12,449.68 L425.49,449.55 L425.85,449.42 L426.21,449.29 L426.58,449.16 L426.94,449.03 L427.30,448.89 L427.66,448.76 L428.03,448.63 L428.39,448.49 L428.75,448.36 L429.12,448.23 L429.48,448.09 L429.84,447.96 L430.20,447.82 L430.57,447.68 L430.93,447.55 L431.29,447.41 L431.66,447.27 L432.02,447.13 L432.38,447.00 L432.75,446.86 L433.11,446.72 L433.47,446.58 L433.83,446.44 L434.20,446.30 L434.56,446.16 L434.92,446.02 L435.29,445.87 L435.65,445.73 L436.01,445.59 L436.37,445.45 L436.74,445.30 L437.10,445.16 L437.46,445.01 L437.83,444.87 L438.19,444.72 L438.55,444.58 L438.91,444.43 L439.28,444.28 L439.64,444.14 L440.00,443.99 L440.37,443.84 L440.73,443.69 L441.09,443.54 L441.46,443.40 L441.82,443.25 L442.18,443.10 L442.54,442.94 L442.91,442.79 L443.27,442.64 L443.63,442.49 L444.00,442.34 L444.36,442.18 L444.72,442.03 L445.08,441.88 L445.45,441.72 L445.81,441.57 L446.17,441.41 L446.54,441.26 L446.90,441.10 L447.26,440.94 L447.62,440.79 L447.99,440.63 L448.35,440.47 L448.71,440.31 L449.08,440.15 L449.44,439.99 L449.80,439.83 L450.16,439.67 L450.53,439.51 L450.89,439.35 L451.25,439.19 L451.62,439.02 L451.98,438.86 L452.34,438.70 L452.71,438.53 L453.07,438.37 L453.43,438.20 L453.79,438.04 L454.16,437.87 L454.52,437.71 L454.88,437.54 L455.25,437.37 L455.61,437.21 L455.97,437.04 L456.33,436.87 L456.70,436.70 L457.06,436.53 L457.42,436.36 L457.79,436.19 L458.15,436.02 L458.51,435.85 L458.87,435.67 L459.24,435.50 L459.60,435.33 L459.96,435.15 L460.33,434.98 L460.69,434.81 L461.05,434.63 L461.42,434.45 L461.78,434.28 L462.14,434.10 L462.50,433.92 L462.87,433.75 L463.23,433.57 L463.59,433.39 L463.96,433.21 L464.32,433.03 L464.68,432.85 L465.04,432.67 L465.41,432.49 L465.77,432.31 L466.13,432.12 L466.50,431.94 L466.86,431.76 L467.22,431.57 L467.58,431.39 L467.95,431.21 L468.31,431.02 L468.67,430.83 L469.04,430.65 L469.40,430.46 L469.76,430.27 L470.12,430.09 L470.49,429.90 L470.85,429.71 L471.21,429.52 L471.58,429.33 L471.94,429.14 L472.30,428.95 L472.67,428.76 L473.03,428.56 L473.39,428.37 L473.75,428.18 L474.12,427.98 L474.48,427.79 L474.84,427.59 L475.21,427.40 L475.57,427.20 L475.93,427.01 L476.29,426.81 L476.66,426.61 L477.02,426.41 L477.38,426.22 L477.75,426.02 L478.11,425.82 L478.47,425.62 L478.83,425.42 L479.20,425.21 L479.56,425.01 L479.92,424.81 L480.29,424.61 L480.65,424.40 L481.01,424.20 L481.38,424.00 L481.74,423.79 L482.10,423.58 L482.46,423.38 L482.83,423.17 L483.19,422.96 L483.55,422.76 L483.92,422.55 L484.28,422.34 L484.64,422.13 L485.00,421.92 L485.37,421.71 L485.73,421.50 L486.09,421.29 L486.46,421.07 L486.82,420.86 L487.18,420.65 L487.54,420.43 L487.91,420.22 L488.27,420.00 L488.63,419.79 L489.00,419.57 L489.36,419.35 L489.72,419.14 L490.08,418.92 L490.45,418.70 L490.81,418.48 L491.17,418.26 L491.54,418.04 L491.90,417.82 L492.26,417.60 L492.63,417.38 L492.99,417.16 L493.35,416.93 L493.71,416.71 L494.08,416.48 L494.44,416.26 L494.80,416.03 L495.17,415.81 L495.53,415.58 L495.89,415.35 L496.25,415.13 L496.62,414.90 L496.98,414.67 L497.34,414.44 L497.71,414.21 L498.07,413.98 L498.43,413.75 L498.79,413.52 L499.16,413.28 L499.52,413.05 L499.88,412.82 L500.25,412.58 L500.61,412.35 L500.97,412.11 L501.34,411.88 L501.70,411.64 L502.06,411.40 L502.42,411.16 L502.79,410.93 L503.15,410.69 L503.51,410.45 L503.88,410.21 L504.24,409.97 L504.60,409.72 L504.96,409.48 L505.33,409.24 L505.69,409.00 L506.05,408.75 L506.42,408.51 L506.78,408.26 L507.14,408.02 L507.50,407.77 L507.87,407.52 L508.23,407.28 L508.59,407.03 L508.96,406.78 L509.32,406.53 L509.68,406.28 L510.04,406.03 L510.41,405.78 L510.77,405.53 L511.13,405.27 L511.50,405.02 L511.86,404.77 L512.22,404.51 L512.59,404.26 L512.95,404.00 L513.31,403.75 L513.67,403.49 L514.04,403.23 L514.40,402.97 L514.76,402.72 L515.13,402.46 L515.49,402.20 L515.85,401.94 L516.21,401.67 L516.58,401.41 L516.94,401.15 L517.30,400.89 L517.67,400.62 L518.03,400.36 L518.39,400.09 L518.75,399.83 L519.12,399.56 L519.48,399.29 L519.84,399.03 L520.21,398.76 L520.57,398.49 L520.93,398.22 L521.30,397.95 L521.66,397.68 L522.02,397.41 L522.38,397.14 L522.75,396.86 L523.11,396.59 L523.47,396.32 L523.84,396.04 L524.20,395.77 L524.56,395.49 L524.92,395.21 L525.29,394.94 L525.65,394.66 L526.01,394.38 L526.38,394.10 L526.74,393.82 L527.10,393.54 L527.46,393.26 L527.83,392.98 L528.19,392.69 L528.55,392.41 L528.92,392.13 L529.28,391.84 L529.64,391.56 L530.00,391.27 L530.37,390.99 L530.73,390.70 L531.09,390.41 L531.46,390.12 L531.82,389.83 L532.18,389.54 L532.55,389.25 L532.91,388.96 L533.27,388.67 L533.63,388.38 L534.00,388.08 L534.36,387.79 L534.72,387.50 L535.09,387.20 L535.45,386.90 L535.81,386.61 L536.17,386.31 L536.54,386.01 L536.90,385.71 L537.26,385.41 L537.63,385.11 L537.99,384.81 L538.35,384.51 L538.71,384.21 L539.08,383.91 L539.44,383.60 L539.80,383.30 L540.17,383.00 L540.53,382.69 L540.89,382.38 L541.26,382.08 L541.62,381.77 L541.98,381.46 L542.34,381.15 L542.71,380.84 L543.07,380.53 L543.43,380.22 L543.80,379.91 L544.16,379.60 L544.52,379.28 L544.88,378.97 L545.25,378.66 L545.61,378.34 L545.97,378.03 L546.34,377.71 L546.70,377.39 L547.06,377.07 L547.42,376.75 L547.79,376.44 L548.15,376.12 L548.51,375.79 L548.88,375.47 L549.24,375.15 L549.60,374.83 L549.96,374.50 L550.33,374.18 L550.69,373.85 L551.05,373.53 L551.42,373.20 L551.78,372.87 L552.14,372.55 L552.51,372.22 L552.87,371.89 L553.23,371.56 L553.59,371.23 L553.96,370.90 L554.32,370.56 L554.68,370.23 L555.05,369.90 L555.41,369.56 L555.77,369.23 L556.13,368.89 L556.50,368.56 L556.86,368.22 L557.22,367.88 L557.59,367.54 L557.95,367.20 L558.31,366.86 L558.67,366.52 L559.04,366.18 L559.40,365.84 L559.76,365.49 L560.13,365.15 L560.49,364.80 L560.85,364.46 L561.21,364.11 L561.58,363.77 L561.94,363.42 L562.30,363.07 L562.67,362.72 L563.03,362.37 L563.39,362.02 L563.76,361.67 L564.12,361.32 L564.48,360.96 L564.84,360.61 L565.21,360.26 L565.57,359.90 L565.93,359.54 L566.30,359.19 L566.66,358.83 L567.02,358.47 L567.38,358.11 L567.75,357.75 L568.11,357.39 L568.47,357.03 L568.84,356.67 L569.20,356.31 L569.56,355.95 L569.92,355.58 L570.29,355.22 L570.65,354.85 L571.01,354.48 L571.38,354.12 L571.74,353.75 L572.10,353.38 L572.47,353.01 L572.83,352.64 L573.19,352.27 L573.55,351.90 L573.92,351.53 L574.28,351.15 L574.64,350.78 L575.01,350.40 L575.37,350.03 L575.73,349.65 L576.09,349.27 L576.46,348.90 L576.82,348.52 L577.18,348.14 L577.55,347.76 L577.91,347.38 L578.27,346.99 L578.63,346.61 L579.00,346.23 L579.36,345.84 L579.72,345.46 L580.09,345.07 L580.45,344.69 L580.81,344.30 L581.17,343.91 L581.54,343.52 L581.90,343.13 L582.26,342.74 L582.63,342.35 L582.99,341.96 L583.35,341.56 L583.72,341.17 L584.08,340.77 L584.44,340.38 L584.80,339.98 L585.17,339.58 L585.53,339.19 L585.89,338.79 L586.26,338.39 L586.62,337.99 L586.98,337.58 L587.34,337.18 L587.71,336.78 L588.07,336.38 L588.43,335.97 L588.80,335.57 L589.16,335.16 L589.52,334.75 L589.88,334.34 L590.25,333.93 L590.61,333.52 L590.97,333.11 L591.34,332.70 L591.70,332.29 L592.06,331.88 L592.43,331.46 L592.79,331.05 L593.15,330.63 L593.51,330.22 L593.88,329.80 L594.24,329.38 L594.60,328.96 L594.97,328.54 L595.33,328.12 L595.69,327.70 L596.05,327.27 L596.42,326.85 L596.78,326.43 L597.14,326.00 L597.51,325.58 L597.87,325.15 L598.23,324.72 L598.59,324.29 L598.96,323.86 L599.32,323.43 L599.68,323.00 L600.05,322.57 L600.41,322.13 L600.77,321.70 L601.13,321.27 L601.50,320.83 L601.86,320.39 L602.22,319.96 L602.59,319.52 L602.95,319.08 L603.31,318.64 L603.68,318.20 L604.04,317.75 L604.40,317.31 L604.76,316.87 L605.13,316.42 L605.49,315.98 L605.85,315.53 L606.22,315.08 L606.58,314.63 L606.94,314.18 L607.30,313.73 L607.67,313.28 L608.03,312.83 L608.39,312.38 L608.76,311.92 L609.12,311.47 L609.48,311.01 L609.84,310.55 L610.21,310.10 L610.57,309.64 L610.93,309.18 L611.30,308.72 L611.66,308.26 L612.02,307.79 L612.39,307.33 L612.75,306.87 L613.11,306.40 L613.47,305.94 L613.84,305.47 L614.20,305.00 L614.56,304.53 L614.93,304.06 L615.29,303.59 L615.65,303.12 L616.01,302.65 L616.38,302.17 L616.74,301.70 L617.10,301.22 L617.47,300.74 L617.83,300.27 L618.19,299.79 L618.55,299.31 L618.92,298.83 L619.28,298.35 L619.64,297.86 L620.01,297.38 L620.37,296.90 L620.73,296.41 L621.09,295.93 L621.46,295.44 L621.82,294.95 L622.18,294.46 L622.55,293.97 L622.91,293.48 L623.27,292.99 L623.64,292.49 L624.00,292.00 L624.36,291.50 L624.72,291.01 L625.09,290.51 L625.45,290.01 L625.81,289.51 L626.18,289.01 L626.54,288.51 L626.90,288.01 L627.26,287.51 L627.63,287.00 L627.99,286.50 L628.35,285.99 L628.72,285.49 L629.08,284.98 L629.44,284.47 L629.80,283.96 L630.17,283.45 L630.53,282.93 L630.89,282.42 L631.26,281.91 L631.62,281.39 L631.98,280.88 L632.35,280.36 L632.71,279.84 L633.07,279.32 L633.43,278.80 L633.80,278.28 L634.16,277.76 L634.52,277.23 L634.89,276.71 L635.25,276.18 L635.61,275.66 L635.97,275.13 L636.34,274.60 L636.70,274.07 L637.06,273.54 L637.43,273.01 L637.79,272.48 L638.15,271.94 L638.51,271.41 L638.88,270.87 L639.24,270.33 L639.60,269.80 L639.97,269.26 L640.33,268.72 L640.69,268.18 L641.05,267.63 L641.42,267.09 L641.78,266.55 L642.14,266.00 L642.51,265.45 L642.87,264.91 L643.23,264.36 L643.60,263.81 L643.96,263.26 L644.32,262.70 L644.68,262.15 L645.05,261.60 L645.41,261.04 L645.77,260.49 L646.14,259.93 L646.50,259.37 L646.86,258.81 L647.22,258.25 L647.59,257.69 L647.95,257.13 L648.31,256.56 L648.68,256.00 L649.04,255.43 L649.40,254.87 L649.76,254.30 L650.13,253.73 L650.49,253.16 L650.85,252.59 L651.22,252.01 L651.58,251.44 L651.94,250.86 L652.31,250.29 L652.67,249.71 L653.03,249.13 L653.39,248.55 L653.76,247.97 L654.12,247.39 L654.48,246.81 L654.85,246.23 L655.21,245.64 L655.57,245.06 L655.93,244.47 L656.30,243.88 L656.66,243.29 L657.02,242.70 L657.39,242.11 L657.75,241.52 L658.11,240.92 L658.47,240.33 L658.84,239.73 L659.20,239.14 L659.56,238.54 L659.93,237.94 L660.29,237.34 L660.65,236.73 L661.01,236.13 L661.38,235.53 L661.74,234.92 L662.10,234.32 L662.47,233.71 L662.83,233.10 L663.19,232.49 L663.56,231.88 L663.92,231.27 L664.28,230.65 L664.64,230.04 L665.01,229.42 L665.37,228.81 L665.73,228.19 L666.10,227.57 L666.46,226.95 L666.82,226.33 L667.18,225.71 L667.55,225.08 L667.91,224.46 L668.27,223.83 L668.64,223.20 L669.00,222.58 L669.36,221.95 L669.72,221.31 L670.09,220.68 L670.45,220.05 L670.81,219.42 L671.18,218.78 L671.54,218.14 L671.90,217.50 L672.27,216.87 L672.63,216.23 L672.99,215.58 L673.35,214.94 L673.72,214.30 L674.08,213.65 L674.44,213.01 L674.81,212.36 L675.17,211.71 L675.53,211.06 L675.89,210.41 L676.26,209.76 L676.62,209.10 L676.98,208.45 L677.35,207.79 L677.71,207.13 L678.07,206.48 L678.43,205.82 L678.80,205.16 L679.16,204.49 L679.52,203.83 L679.89,203.17 L680.25,202.50 L680.61,201.83 L680.97,201.16 L681.34,200.50 L681.70,199.82 L682.06,199.15 L682.43,198.48 L682.79,197.81 L683.15,197.13 L683.52,196.45 L683.88,195.77 L684.24,195.10 L684.60,194.41 L684.97,193.73 L685.33,193.05 L685.69,192.37 L686.06,191.68 L686.42,190.99 L686.78,190.30 L687.14,189.62 L687.51,188.92 L687.87,188.23 L688.23,187.54 L688.60,186.85 L688.96,186.15 L689.32,185.45 L689.68,184.75 L690.05,184.06 L690.41,183.35 L690.77,182.65 L691.14,181.95 L691.50,181.24 L691.86,180.54 L692.22,179.83 L692.59,179.12 L692.95,178.41 L693.31,177.70 L693.68,176.99 L694.04,176.28 L694.40,175.56 L694.77,174.85 L695.13,174.13 L695.49,173.41 L695.85,172.69 L696.22,171.97 L696.58,171.25 L696.94,170.52 L697.31,169.80 L697.67,169.07 L698.03,168.34 L698.39,167.61 L698.76,166.88 L699.12,166.15 L699.48,165.42 L699.85,164.69 L700.21,163.95 L700.57,163.21 L700.93,162.47 L701.30,161.74 L701.66,160.99 L702.02,160.25 L702.39,159.51 L702.75,158.76 L703.11,158.02 L703.48,157.27 L703.84,156.52 L704.20,155.77 L704.56,155.02 L704.93,154.27 L705.29,153.51 L705.65,152.76 L706.02,152.00 L706.38,151.24 L706.74,150.48 L707.10,149.72 L707.47,148.96 L707.83,148.20 L708.19,147.43 L708.56,146.67 L708.92,145.90 L709.28,145.13 L709.64,144.36 L710.01,143.59 L710.37,142.82 L710.73,142.04 L711.10,141.27 L711.46,140.49 L711.82,139.71 L712.18,138.93 L712.55,138.15 L712.91,137.37 L713.27,136.58 L713.64,135.80 L714.00,135.01 L714.36,134.22 L714.73,133.43 L715.09,132.64 L715.45,131.85 L715.81,131.06 L716.18,130.26 L716.54,129.47 L716.90,128.67 L717.27,127.87 L717.63,127.07 L717.99,126.27 L718.35,125.47 L718.72,124.66 L719.08,123.86 L719.44,123.05 L719.81,122.24 L720.17,121.43 L720.53,120.62 L720.89,119.81 L721.26,118.99 L721.62,118.18 L721.98,117.36 L722.35,116.54 L722.71,115.72 L723.07,114.90 L723.44,114.08 L723.80,113.25 L724.16,112.43 L724.52,111.60 L724.89,110.77 L725.25,109.94 L725.61,109.11 L725.98,108.28 L726.34,107.44 L726.70,106.61 L727.06,105.77 L727.43,104.93 L727.79,104.09 L728.15,103.25 L728.52,102.41 L728.88,101.57 L729.24,100.72 L729.60,99.87 L729.97,99.03 L730.33,98.18 L730.69,97.32 L731.06,96.47 L731.42,95.62 L731.78,94.76 L732.14,93.91 L732.51,93.05 L732.87,92.19 L733.23,91.33 L733.60,90.46 L733.96,89.60 L734.32,88.73 L734.69,87.87 L735.05,87.00 L735.41,86.13 L735.77,85.26 L736.14,84.38 L736.50,83.51 L736.86,82.63 L737.23,81.76 L737.59,80.88 L737.95,80.00 L738.31,79.11 L738.68,78.23 L739.04,77.35 L739.40,76.46 L739.77,75.57 L740.13,74.68 L740.49,73.79 L740.85,72.90 L741.22,72.01 L741.58,71.11 L741.94,70.22 L742.31,69.32 L742.67,68.42 L743.03,67.52 L743.40,66.61 L743.76,65.71 L744.12,64.80 L744.48,63.90 L744.85,62.99 L745.21,62.08 L745.57,61.17 L745.94,60.25 L746.30,59.34 L746.66,58.42 L747.02,57.51 L747.39,56.59 L747.75,55.67" stroke="#ff0000" stroke-dasharray="6.1,8.9" stroke-dashoffset="8.25"/>
<path d="M205.30,482.15 L208.88,482.15 L212.47,482.14 L216.05,482.06 L219.64,481.97 L223.22,481.86 L226.81,481.76 L230.39,481.64 L233.98,481.52 L237.56,481.39 L241.15,481.25 L244.73,481.11 L248.32,480.96 L251.90,480.79 L255.48,480.61 L259.06,480.42 L262.64,480.23 L266.22,480.03 L269.80,479.82 L273.38,479.60 L276.96,479.38 L280.54,479.14 L284.12,478.91 L287.69,478.66 L291.27,478.41 L294.85,478.15 L298.43,477.88 L302.01,477.60 L305.59,477.31 L309.16,477.02 L312.74,476.72 L316.32,476.41 L319.90,476.09 L323.47,475.76 L327.05,475.43 L330.63,475.09 L334.20,474.75 L337.78,474.39 L341.36,474.03 L344.93,473.67 L348.51,473.29 L352.09,472.91 L355.66,472.52 L359.24,472.12 L362.82,471.72 L366.40,471.31 L369.97,470.89 L373.55,470.46 L377.13,470.03 L380.70,469.59 L384.28,469.14 L387.86,468.69 L391.43,468.23 L395.01,467.76 L398.59,467.28 L402.17,466.80 L405.75,466.33 L409.33,465.84 L412.91,465.35 L416.49,464.84 L420.08,464.33 L423.66,463.81 L427.24,463.28 L430.82,462.74 L434.40,462.19 L437.98,461.63 L441.57,461.06 L445.15,460.48 L448.73,459.88 L452.31,459.28 L455.89,458.66 L459.47,458.02 L463.06,457.38 L466.64,456.72 L470.22,456.05 L473.80,455.36 L477.38,454.66 L480.96,453.95 L484.55,453.21 L488.13,452.47 L491.71,451.70 L495.29,450.93 L498.87,450.13 L502.45,449.32 L506.04,448.49 L509.62,447.64 L513.20,446.77 L516.78,445.88 L520.36,444.98 L523.94,444.06 L527.53,443.11 L531.11,442.15 L534.69,441.17 L538.27,440.16 L541.85,439.14 L545.44,438.09 L549.02,437.02 L552.60,435.93 L556.18,434.81 L559.76,433.68 L563.34,432.52 L566.93,431.33 L570.51,430.12 L574.09,428.89 L577.67,427.63 L581.25,426.35 L584.83,425.04 L588.42,423.70 L592.00,422.34 L595.58,420.95 L599.16,419.53 L602.74,418.08 L606.32,416.61 L609.91,415.11 L613.49,413.58 L617.07,412.02 L620.65,410.43 L624.24,408.81 L627.82,407.16 L631.40,405.48 L634.98,403.77 L638.57,402.03 L642.15,400.25 L645.73,398.44 L649.31,396.60 L652.90,394.72 L656.48,392.82 L660.06,390.89 L663.64,388.93 L667.23,386.94 L670.81,384.93 L674.39,382.88 L677.97,380.82 L681.56,378.73 L685.14,376.62 L688.72,374.49 L692.30,372.33 L695.89,370.16 L699.47,367.96 L703.05,365.74 L706.63,363.49 L710.22,361.22 L713.80,358.92 L717.38,356.58 L720.96,354.22 L724.55,351.83 L728.13,349.40 L731.71,346.94 L735.29,344.44 L738.88,341.91 L742.46,339.33 L746.04,336.72 L749.62,334.06 L753.21,331.37 L756.79,328.62 L760.37,325.84 L763.95,323.00 L767.54,320.12 L771.12,317.19 L774.70,314.21" stroke="#0000ff"/>
<path d="M205.30,482.15 L208.88,482.15 L212.47,482.14 L216.05,482.06 L219.64,481.97 L223.22,481.86 L226.81,481.76 L230.39,481.64 L233.98,481.52 L237.56,481.39 L241.15,481.25 L244.73,481.11 L248.32,480.96 L251.90,480.80 L255.49,480.63 L259.07,480.46 L262.66,480.28 L266.24,480.09 L269.83,479.90 L273.41,479.69 L277.00,479.48 L280.58,479.27 L284.17,479.04 L287.75,478.81 L291.34,478.57 L294.92,478.33 L298.51,478.07 L302.09,477.81 L305.68,477.55 L309.26,477.27 L312.85,476.99 L316.43,476.70 L320.02,476.40 L323.60,476.10 L327.19,475.79 L330.77,475.47 L334.36,475.14 L337.94,474.81 L341.53,474.47 L345.11,474.12 L348.70,473.77 L352.28,473.41 L355.87,473.04 L359.45,472.66 L363.04,472.28 L366.62,471.89 L370.21,471.49 L373.79,471.09 L377.38,470.67 L380.96,470.25 L384.55,469.83 L388.13,469.39 L391.72,468.95 L395.30,468.50 L398.88,468.05 L402.47,467.58 L406.05,467.11 L409.64,466.64 L413.22,466.15 L416.81,465.66 L420.39,465.15 L423.98,464.64 L427.56,464.12 L431.15,463.59 L434.73,463.05 L438.32,462.49 L441.90,461.93 L445.49,461.36 L449.07,460.77 L452.66,460.17 L456.24,459.56 L459.83,458.94 L463.41,458.30 L467.00,457.65 L470.58,456.99 L474.17,456.31 L477.75,455.62 L481.34,454.91 L484.92,454.19 L488.51,453.45 L492.09,452.69 L495.68,451.92 L499.26,451.13 L502.85,450.33 L506.43,449.51 L510.02,448.67 L513.60,447.81 L517.19,446.93 L520.77,446.04 L524.36,445.12 L527.94,444.18 L531.53,443.23 L535.11,442.25 L538.70,441.26 L542.28,440.24 L545.87,439.20 L549.45,438.14 L553.04,437.06 L556.62,435.95 L560.21,434.82 L563.79,433.67 L567.38,432.50 L570.96,431.29 L574.55,430.07 L578.13,428.82 L581.72,427.54 L585.30,426.24 L588.88,424.91 L592.47,423.56 L596.05,422.18 L599.64,420.77 L603.22,419.33 L606.81,417.86 L610.39,416.37 L613.98,414.85 L617.56,413.29 L621.15,411.71 L624.73,410.10 L628.32,408.45 L631.90,406.78 L635.49,405.07 L639.07,403.33 L642.66,401.56 L646.24,399.76 L649.83,397.93 L653.41,396.06 L657.00,394.16 L660.58,392.24 L664.17,390.28 L667.75,388.30 L671.34,386.29 L674.92,384.26 L678.51,382.20 L682.09,380.12 L685.68,378.01 L689.26,375.89 L692.85,373.74 L696.43,371.57 L700.02,369.38 L703.60,367.16 L707.19,364.92 L710.77,362.65 L714.36,360.36 L717.94,358.03 L721.53,355.68 L725.11,353.29 L728.70,350.87 L732.28,348.41 L735.87,345.92 L739.45,343.39 L743.04,340.83 L746.62,338.22 L750.21,335.57 L753.79,332.88 L757.38,330.14 L760.96,327.36 L764.55,324.54 L768.13,321.66 L771.72,318.74 L775.30,315.76" stroke="#ff0000"/>
</g>
<path d="M168.02,478.15V485.45M171.47,478.15V485.45M174.92,478.15V485.45M178.37,478.15V485.45M181.82,478.15V485.45M185.27,478.15V485.45M188.72,478.15V485.45M192.17,478.15V485.45M195.62,478.15V485.45M199.07,478.15V485.45M202.52,478.15V485.45M205.97,478.15V485.45M209.42,478.15V485.45M212.87,478.15V485.45" stroke="#b82428" stroke-width="1.9" fill="none"/><path d="M164.52,481.80H216.37" stroke="#8e1216" stroke-width="2.7" fill="none"/>
<path d="M214.00,481.03 L218.71,480.84 L223.43,480.63 L228.14,480.38 L232.86,480.11 L237.57,479.81 L242.29,479.48 L247.00,479.12 L251.71,478.73 L256.43,478.31 L261.14,477.87 L265.86,477.40 L270.57,476.91 L275.29,476.39 L280.00,475.84 L284.71,475.27 L289.43,474.68 L294.14,474.06 L298.86,473.42 L303.57,472.76 L308.29,472.08 L313.00,471.37 L317.71,470.64 L322.43,469.89 L327.14,469.12 L331.86,468.33 L336.57,467.52 L341.29,466.69 L346.00,465.84 L350.71,464.97 L355.43,464.08 L360.14,463.17 L364.86,462.24 L369.57,461.28 L374.29,460.30 L379.00,459.30 L383.71,458.28 L388.43,457.24 L393.14,456.17 L397.86,455.08 L402.57,453.96 L407.29,452.82 L412.00,451.66 L416.71,450.48 L421.43,449.26 L426.14,448.03 L430.86,446.77 L435.57,445.48 L440.29,444.17 L445.00,442.83 L449.71,441.47 L454.43,440.07 L459.14,438.66 L463.86,437.21 L468.57,435.74 L473.29,434.24 L478.00,432.72 L482.71,431.16 L487.43,429.58 L492.14,427.97 L496.86,426.32 L501.57,424.66 L506.29,422.96 L511.00,421.23 L515.71,419.47 L520.43,417.68 L525.14,415.86 L529.86,414.01 L534.57,412.13 L539.29,410.22 L544.00,408.27 L548.71,406.30 L553.43,404.29 L558.14,402.25 L562.86,400.17 L567.57,398.06 L572.29,395.91 L577.00,393.72 L581.71,391.49 L586.43,389.22 L591.14,386.91 L595.86,384.56 L600.57,382.17 L605.29,379.74 L610.00,377.26 L614.71,374.73 L619.43,372.16 L624.14,369.54 L628.86,366.87 L633.57,364.15 L638.29,361.39 L643.00,358.57 L647.71,355.70 L652.43,352.78 L657.14,349.80 L661.86,346.77 L666.57,343.69 L671.29,340.55 L676.00,337.36 L680.71,334.11 L685.43,330.80 L690.14,327.43 L694.86,324.00 L699.57,320.52 L704.29,316.97 L709.00,313.36 L713.71,309.70 L718.43,305.96 L723.14,302.17 L727.86,298.32 L732.57,294.40 L737.29,290.41 L742.00,286.37 L746.71,282.25 L751.43,278.08 L756.14,273.83 L760.86,269.52 L765.57,265.14 L770.29,260.70 L775.00,256.19 L775.00,348.35 L770.29,351.53 L765.57,354.66 L760.86,357.73 L756.14,360.76 L751.43,363.73 L746.71,366.65 L742.00,369.52 L737.29,372.34 L732.57,375.10 L727.86,377.82 L723.14,380.49 L718.43,383.12 L713.71,385.69 L709.00,388.22 L704.29,390.70 L699.57,393.13 L694.86,395.51 L690.14,397.86 L685.43,400.15 L680.71,402.40 L676.00,404.61 L671.29,406.77 L666.57,408.89 L661.86,410.97 L657.14,413.00 L652.43,415.00 L647.71,416.95 L643.00,418.86 L638.29,420.73 L633.57,422.56 L628.86,424.35 L624.14,426.10 L619.43,427.81 L614.71,429.49 L610.00,431.12 L605.29,432.72 L600.57,434.28 L595.86,435.81 L591.14,437.30 L586.43,438.76 L581.71,440.18 L577.00,441.56 L572.29,442.92 L567.57,444.23 L562.86,445.52 L558.14,446.77 L553.43,447.99 L548.71,449.18 L544.00,450.34 L539.29,451.47 L534.57,452.57 L529.86,453.64 L525.14,454.67 L520.43,455.68 L515.71,456.67 L511.00,457.62 L506.29,458.55 L501.57,459.45 L496.86,460.32 L492.14,461.17 L487.43,461.99 L482.71,462.79 L478.00,463.56 L473.29,464.31 L468.57,465.03 L463.86,465.73 L459.14,466.41 L454.43,467.07 L449.71,467.70 L445.00,468.32 L440.29,468.91 L435.57,469.48 L430.86,470.04 L426.14,470.57 L421.43,471.08 L416.71,471.58 L412.00,472.06 L407.29,472.52 L402.57,472.96 L397.86,473.39 L393.14,473.80 L388.43,474.20 L383.71,474.58 L379.00,474.94 L374.29,475.30 L369.57,475.63 L364.86,475.96 L360.14,476.27 L355.43,476.57 L350.71,476.86 L346.00,477.13 L341.29,477.40 L336.57,477.65 L331.86,477.90 L327.14,478.13 L322.43,478.36 L317.71,478.58 L313.00,478.79 L308.29,478.99 L303.57,479.19 L298.86,479.37 L294.14,479.56 L289.43,479.73 L284.71,479.90 L280.00,480.07 L275.29,480.23 L270.57,480.39 L265.86,480.55 L261.14,480.70 L256.43,480.85 L251.71,480.99 L247.00,481.14 L242.29,481.28 L237.57,481.43 L232.86,481.57 L228.14,481.72 L223.43,481.86 L218.71,482.01 L214.00,482.16Z" fill="#ffa500" fill-opacity="0.3"/>
<path d="M214.00,481.62 L218.71,481.41 L223.43,481.18 L228.14,480.92 L232.86,480.64 L237.57,480.33 L242.29,480.00 L247.00,479.65 L251.71,479.27 L256.43,478.86 L261.14,478.44 L265.86,477.98 L270.57,477.50 L275.29,477.00 L280.00,476.47 L284.71,475.91 L289.43,475.33 L294.14,474.73 L298.86,474.10 L303.57,473.44 L308.29,472.76 L313.00,472.05 L317.71,471.32 L322.43,470.56 L327.14,469.78 L331.86,468.97 L336.57,468.13 L341.29,467.27 L346.00,466.38 L350.71,465.47 L355.43,464.53 L360.14,463.56 L364.86,462.57 L369.57,461.55 L374.29,460.50 L379.00,459.43 L383.71,458.33 L388.43,457.20 L393.14,456.05 L397.86,454.87 L402.57,453.67 L407.29,452.43 L412.00,451.17 L416.71,449.89 L421.43,448.57 L426.14,447.23 L430.86,445.86 L435.57,444.47 L440.29,443.04 L445.00,441.59 L449.71,440.11 L454.43,438.61 L459.14,437.07 L463.86,435.51 L468.57,433.92 L473.29,432.31 L478.00,430.66 L482.71,428.99 L487.43,427.29 L492.14,425.56 L496.86,423.80 L501.57,422.01 L506.29,420.20 L511.00,418.36 L515.71,416.49 L520.43,414.59 L525.14,412.66 L529.86,410.70 L534.57,408.72 L539.29,406.70 L544.00,404.66 L548.71,402.59 L553.43,400.48 L558.14,398.35 L562.86,396.19 L567.57,394.01 L572.29,391.78 L577.00,389.53 L581.71,387.24 L586.43,384.91 L591.14,382.55 L595.86,380.14 L600.57,377.70 L605.29,375.21 L610.00,372.67 L614.71,370.09 L619.43,367.47 L624.14,364.79 L628.86,362.06 L633.57,359.28 L638.29,356.44 L643.00,353.55 L647.71,350.60 L652.43,347.59 L657.14,344.51 L661.86,341.38 L666.57,338.18 L671.29,334.92 L676.00,331.59 L680.71,328.19 L685.43,324.72 L690.14,321.17 L694.86,317.56 L699.57,313.86 L704.29,310.09 L709.00,306.24 L713.71,302.31 L718.43,298.30 L723.14,294.21 L727.86,290.02 L732.57,285.76 L737.29,281.40 L742.00,276.95 L746.71,272.42 L751.43,267.78 L756.14,263.06 L760.86,258.23 L765.57,253.31 L770.29,248.29 L775.00,243.16 L775.00,360.05 L770.29,362.93 L765.57,365.75 L760.86,368.54 L756.14,371.27 L751.43,373.96 L746.71,376.61 L742.00,379.21 L737.29,381.77 L732.57,384.28 L727.86,386.75 L723.14,389.18 L718.43,391.56 L713.71,393.90 L709.00,396.20 L704.29,398.46 L699.57,400.67 L694.86,402.85 L690.14,404.98 L685.43,407.08 L680.71,409.13 L676.00,411.15 L671.29,413.13 L666.57,415.07 L661.86,416.97 L657.14,418.83 L652.43,420.65 L647.71,422.44 L643.00,424.20 L638.29,425.91 L633.57,427.59 L628.86,429.24 L624.14,430.85 L619.43,432.42 L614.71,433.96 L610.00,435.47 L605.29,436.95 L600.57,438.39 L595.86,439.80 L591.14,441.17 L586.43,442.52 L581.71,443.83 L577.00,445.12 L572.29,446.37 L567.57,447.59 L562.86,448.78 L558.14,449.95 L553.43,451.08 L548.71,452.18 L544.00,453.26 L539.29,454.31 L534.57,455.33 L529.86,456.33 L525.14,457.30 L520.43,458.24 L515.71,459.15 L511.00,460.04 L506.29,460.91 L501.57,461.75 L496.86,462.57 L492.14,463.36 L487.43,464.13 L482.71,464.88 L478.00,465.60 L473.29,466.30 L468.57,466.98 L463.86,467.64 L459.14,468.27 L454.43,468.89 L449.71,469.49 L445.00,470.06 L440.29,470.62 L435.57,471.15 L430.86,471.67 L426.14,472.17 L421.43,472.65 L416.71,473.12 L412.00,473.56 L407.29,474.00 L402.57,474.41 L397.86,474.81 L393.14,475.19 L388.43,475.56 L383.71,475.91 L379.00,476.25 L374.29,476.57 L369.57,476.88 L364.86,477.18 L360.14,477.46 L355.43,477.73 L350.71,477.99 L346.00,478.24 L341.29,478.48 L336.57,478.70 L331.86,478.92 L327.14,479.12 L322.43,479.32 L317.71,479.51 L313.00,479.68 L308.29,479.85 L303.57,480.01 L298.86,480.17 L294.14,480.31 L289.43,480.45 L284.71,480.58 L280.00,480.71 L275.29,480.83 L270.57,480.94 L265.86,481.05 L261.14,481.16 L256.43,481.26 L251.71,481.36 L247.00,481.45 L242.29,481.54 L237.57,481.63 L232.86,481.72 L228.14,481.80 L223.43,481.89 L218.71,481.97 L214.00,482.05Z" fill="#228b22" fill-opacity="0.3"/>
<text x="113.40" y="515.9" text-anchor="middle" letter-spacing="0.3">0</text><text x="196.53" y="515.9" text-anchor="middle" letter-spacing="0.3">100</text><text x="279.65" y="515.9" text-anchor="middle" letter-spacing="0.3">200</text><text x="362.77" y="515.9" text-anchor="middle" letter-spacing="0.3">300</text><text x="445.90" y="515.9" text-anchor="middle" letter-spacing="0.3">400</text><text x="529.02" y="515.9" text-anchor="middle" letter-spacing="0.3">500</text><text x="612.15" y="515.9" text-anchor="middle" letter-spacing="0.3">600</text><text x="695.27" y="515.9" text-anchor="middle" letter-spacing="0.3">700</text><text x="778.40" y="515.9" text-anchor="middle" letter-spacing="0.3">800</text>
<text x="95.6" y="491.40" text-anchor="end">0</text><text x="95.6" y="404.90" text-anchor="end">2</text><text x="95.6" y="318.40" text-anchor="end">4</text><text x="95.6" y="231.90" text-anchor="end">6</text><text x="95.6" y="145.40" text-anchor="end">8</text><text x="95.6" y="58.90" text-anchor="end">10</text>
<text x="123.50" y="83.60" text-anchor="start" letter-spacing="0.42">QM Tree:</text><text x="232.00" y="83.60" text-anchor="start" letter-spacing="0.3">m<tspan font-size="19.2" dy="5">π</tspan></text><text x="382.75" y="83.60" text-anchor="end" letter-spacing="0.16">= 140MeV</text><text x="382.75" y="114.40" text-anchor="end" letter-spacing="0.16">170MeV</text><text x="179.30" y="145.20" text-anchor="start" letter-spacing="0.42">QM:</text><text x="232.00" y="145.20" text-anchor="start" letter-spacing="0.3">m<tspan font-size="19.2" dy="5">π</tspan></text><text x="382.75" y="145.20" text-anchor="end" letter-spacing="0.16">= 140MeV</text><text x="382.75" y="176.00" text-anchor="end" letter-spacing="0.16">170MeV</text><text x="382.75" y="206.80" text-anchor="end" letter-spacing="0.16">Brandt et al.</text><text x="382.75" y="237.60" text-anchor="end" letter-spacing="0.16">Abbott et al. 48x96</text><text x="382.75" y="268.40" text-anchor="end" letter-spacing="0.16">64x128</text>
<path d="M397.0,74.70H462.0" stroke="#0000ff" stroke-width="2.4" stroke-dasharray="6.1,8.9" fill="none"/><path d="M397.0,105.50H462.0" stroke="#ff0000" stroke-width="2.4" stroke-dasharray="6.1,8.9" fill="none"/><path d="M397.0,136.30H462.0" stroke="#0000ff" stroke-width="2.4" fill="none"/><path d="M397.0,167.10H462.0" stroke="#ff0000" stroke-width="2.4" fill="none"/><path d="M426,198.10h7.1M429.5,194.50v7.2" stroke="#a81c20" stroke-width="2.5" fill="none"/><rect x="397.5" y="222.60" width="64.1" height="12.2" fill="#ffa500" fill-opacity="0.3" stroke="#ffa500" stroke-width="1"/><rect x="397.5" y="253.40" width="64.1" height="12.2" fill="#228b22" fill-opacity="0.3" stroke="#228b22" stroke-opacity="0.75" stroke-width="1"/>
<text x="396.7" y="552.6" font-style="italic">μ</text>
<text x="411.2" y="557.6" style="font-size:19.2px">I</text>
<text x="424.3" y="552.6" letter-spacing="0.3">[MeV]</text>
<text transform="translate(54.7,266.3) rotate(-90)" text-anchor="middle" letter-spacing="0.36">p [GeV fm<tspan font-size="19.2" dy="-8.5">-3</tspan><tspan dy="8.5">]</tspan></text>
</svg>
</body></html>
